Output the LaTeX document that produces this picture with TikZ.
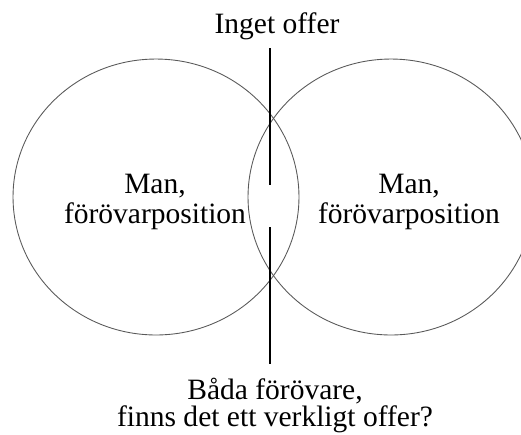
\documentclass[tikz,border=0pt]{standalone}
\usepackage{fontspec}
\setmainfont{Liberation Serif}
\usepackage{tikz}
\usetikzlibrary{positioning}

\tikzset{
  lbl/.style={inner sep=0pt, align=center, font=\fontsize{16.8}{17}\selectfont},
  lbltight/.style={lbl, font=\fontsize{16.8}{15.2}\selectfont},
  ring/.style={draw=black!65, line width=0.5pt},
  divider/.style={draw=black, line width=0.65pt}
}

\begin{document}
\begin{tikzpicture}[x=0.02cm, y=-0.02cm]
\useasboundingbox (0,0) rectangle (521,434);
\clip (0,0) rectangle (521,434);
% the two positions
\draw[ring] (156,197) ellipse [x radius=2.86cm, y radius=2.76cm];
\draw[ring] (391,197) ellipse [x radius=2.86cm, y radius=2.76cm];
% labels
\node[lbl, anchor=base] (inget) at (277,33) {Inget offer};
\node[lbl, anchor=base] (manL) at (155,223) {Man,\\förövarposition};
\node[lbl, anchor=base] (manR) at (409,223) {Man,\\förövarposition};
\node[lbltight, anchor=base] (bada) at (275,426) {Båda förövare,\\finns det ett verkligt offer?};
% the line, broken in the middle
\coordinate (top) at (270,48);
\coordinate (gapA) at (270,185);
\coordinate (gapB) at (270,227);
\coordinate (bot) at (270,364);
\draw[divider] (top) -- (gapA);
\draw[divider] (gapB) -- (bot);
\end{tikzpicture}
\end{document}
